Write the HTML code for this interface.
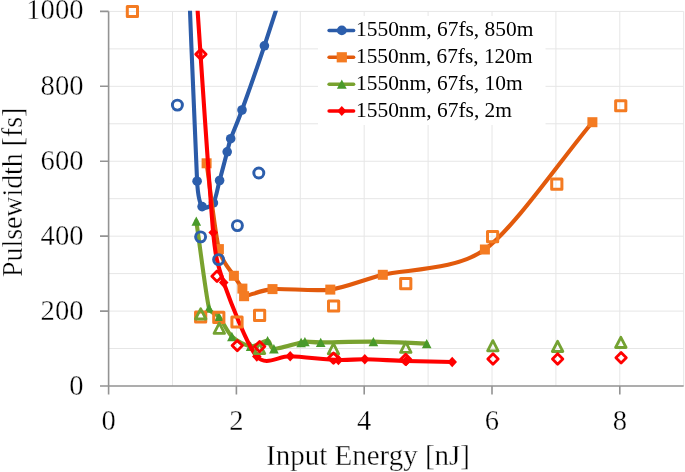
<!DOCTYPE html><html><head><meta charset="utf-8"><style>html,body{margin:0;padding:0;background:#fff;}svg{display:block;will-change:transform;}text{font-family:"Liberation Serif",serif;fill:#000;stroke:#fff;stroke-width:0.35px;} text.lg{stroke:none;}</style></head><body>
<svg width="685" height="472" viewBox="0 0 685 472">
<defs><clipPath id="pc"><rect x="108.60" y="10.80" width="575.10" height="375.20"/></clipPath></defs>
<rect width="685" height="472" fill="#fff"/>
<path d="M108.60,348.54H683.70 M108.60,311.08H683.70 M108.60,273.62H683.70 M108.60,236.16H683.70 M108.60,198.70H683.70 M108.60,161.24H683.70 M108.60,123.78H683.70 M108.60,86.32H683.70 M108.60,48.86H683.70 M108.60,11.40H683.70 M172.50,11.40V386.00 M236.40,11.40V386.00 M300.30,11.40V386.00 M364.20,11.40V386.00 M428.10,11.40V386.00 M492.00,11.40V386.00 M555.90,11.40V386.00 M619.80,11.40V386.00 M683.70,11.40V386.00" stroke="#E6E6E6" stroke-width="1" fill="none"/>
<path d="M108.60,11.40V394.40 M100.00,386.00H683.70 M100.00,386.00H108.60 M100.00,311.08H108.60 M100.00,236.16H108.60 M100.00,161.24H108.60 M100.00,86.32H108.60 M100.00,11.40H108.60 M108.60,386.00V394.40 M236.40,386.00V394.40 M364.20,386.00V394.40 M492.00,386.00V394.40 M619.80,386.00V394.40" stroke="#939393" stroke-width="1.6" fill="none"/>
<text x="83.5" y="394.85" font-size="28.6" text-anchor="end">0</text>
<text x="83.5" y="319.77" font-size="28.6" text-anchor="end">200</text>
<text x="83.5" y="244.69" font-size="28.6" text-anchor="end">400</text>
<text x="83.5" y="169.61" font-size="28.6" text-anchor="end">600</text>
<text x="83.5" y="94.53" font-size="28.6" text-anchor="end">800</text>
<text x="83.5" y="19.45" font-size="28.6" text-anchor="end">1000</text>
<text x="108.60" y="429.7" font-size="28.6" text-anchor="middle">0</text>
<text x="236.40" y="429.7" font-size="28.6" text-anchor="middle">2</text>
<text x="364.20" y="429.7" font-size="28.6" text-anchor="middle">4</text>
<text x="492.00" y="429.7" font-size="28.6" text-anchor="middle">6</text>
<text x="619.80" y="429.7" font-size="28.6" text-anchor="middle">8</text>
<text x="266" y="465.2" font-size="28.5" textLength="204" lengthAdjust="spacingAndGlyphs">Input Energy [nJ]</text>
<text transform="translate(21.5,277) rotate(-90)" x="0" y="0" font-size="28.5" textLength="169.4" lengthAdjust="spacingAndGlyphs">Pulsewidth [fs]</text>
<path d="M187.20,-60.00 C189.97,7.54 195.01,143.88 197.10,181.20 C197.75,192.83 199.82,203.56 202.10,206.60 C204.38,209.64 210.95,206.55 213.40,202.90 C215.85,199.25 217.67,187.65 219.60,180.50 C221.53,173.35 225.65,157.65 227.20,151.80 C228.75,145.95 228.66,144.45 230.70,138.70 C232.77,132.85 237.28,123.01 242.00,110.00 C246.72,96.99 256.28,70.09 264.40,45.80 C272.52,21.51 290.03,-32.90 300.00,-63.50" stroke="#2B5BA8" clip-path="url(#pc)" fill="none" stroke-width="4.10" stroke-linecap="round" stroke-linejoin="round"/>
<circle cx="197.10" cy="181.20" r="4.80" fill="#2C5EAC"/>
<circle cx="202.10" cy="206.60" r="4.80" fill="#2C5EAC"/>
<circle cx="213.40" cy="202.90" r="4.80" fill="#2C5EAC"/>
<circle cx="219.60" cy="180.50" r="4.80" fill="#2C5EAC"/>
<circle cx="227.20" cy="151.80" r="4.80" fill="#2C5EAC"/>
<circle cx="230.70" cy="138.70" r="4.80" fill="#2C5EAC"/>
<circle cx="242.00" cy="110.00" r="4.80" fill="#2C5EAC"/>
<circle cx="264.40" cy="45.80" r="4.80" fill="#2C5EAC"/>
<path d="M206.60,163.30 C210.04,187.32 215.08,233.35 218.90,249.10 C222.15,262.49 230.61,270.27 233.90,275.80 C237.19,281.33 240.97,285.74 242.40,288.60 C243.83,291.46 240.60,296.14 244.10,296.20 C248.31,296.27 260.43,290.02 272.50,289.10 C284.57,288.18 314.86,291.60 330.30,289.60 C345.74,287.60 361.16,280.41 382.80,274.80 C404.44,269.19 455.56,270.86 484.90,249.50 C514.24,228.14 562.30,157.84 592.40,122.20" stroke="#E25A0C" clip-path="url(#pc)" fill="none" stroke-width="4.10" stroke-linecap="round" stroke-linejoin="round"/>
<rect x="201.60" y="158.30" width="10.00" height="10.00" fill="#F47B22"/>
<rect x="213.90" y="244.10" width="10.00" height="10.00" fill="#F47B22"/>
<rect x="228.90" y="270.80" width="10.00" height="10.00" fill="#F47B22"/>
<rect x="237.40" y="283.60" width="10.00" height="10.00" fill="#F47B22"/>
<rect x="239.10" y="291.20" width="10.00" height="10.00" fill="#F47B22"/>
<rect x="267.50" y="284.10" width="10.00" height="10.00" fill="#F47B22"/>
<rect x="325.30" y="284.60" width="10.00" height="10.00" fill="#F47B22"/>
<rect x="377.80" y="269.80" width="10.00" height="10.00" fill="#F47B22"/>
<rect x="479.90" y="244.50" width="10.00" height="10.00" fill="#F47B22"/>
<rect x="587.40" y="117.20" width="10.00" height="10.00" fill="#F47B22"/>
<path d="M196.30,221.15 C199.86,245.50 205.82,294.72 209.00,308.10 C210.37,313.87 215.79,312.72 219.00,316.70 C222.21,320.68 227.48,332.36 231.90,336.50 C236.32,340.64 245.60,345.68 250.60,346.25 C255.60,346.82 264.34,340.24 267.60,340.60 C270.86,340.96 269.25,348.54 273.90,348.80 C278.59,349.06 296.76,343.45 301.10,342.45 C302.80,342.06 303.15,341.65 304.90,341.65 C307.64,341.64 313.58,342.41 320.70,342.40 C330.29,342.39 358.56,341.43 373.40,341.60 C388.24,341.77 411.78,343.04 426.70,343.60" stroke="#79A22F" clip-path="url(#pc)" fill="none" stroke-width="4.10" stroke-linecap="round" stroke-linejoin="round"/>
<path d="M196.30,216.45 L201.10,225.85 L191.50,225.85 Z" fill="#499A2A"/>
<path d="M209.00,303.40 L213.80,312.80 L204.20,312.80 Z" fill="#499A2A"/>
<path d="M219.00,312.00 L223.80,321.40 L214.20,321.40 Z" fill="#499A2A"/>
<path d="M231.90,331.80 L236.70,341.20 L227.10,341.20 Z" fill="#499A2A"/>
<path d="M250.60,341.55 L255.40,350.95 L245.80,350.95 Z" fill="#499A2A"/>
<path d="M267.60,335.90 L272.40,345.30 L262.80,345.30 Z" fill="#499A2A"/>
<path d="M273.90,344.10 L278.70,353.50 L269.10,353.50 Z" fill="#499A2A"/>
<path d="M301.10,337.75 L305.90,347.15 L296.30,347.15 Z" fill="#499A2A"/>
<path d="M304.90,336.95 L309.70,346.35 L300.10,346.35 Z" fill="#499A2A"/>
<path d="M320.70,337.70 L325.50,347.10 L315.90,347.10 Z" fill="#499A2A"/>
<path d="M373.40,336.90 L378.20,346.30 L368.60,346.30 Z" fill="#499A2A"/>
<path d="M426.70,338.90 L431.50,348.30 L421.90,348.30 Z" fill="#499A2A"/>
<path d="M192.60,-63.50 C198.37,19.41 208.85,184.15 213.20,232.60 C215.26,255.50 217.60,265.25 223.70,282.60 C229.80,299.95 247.49,346.18 256.80,356.50 C266.11,366.82 278.78,355.81 290.20,356.30 C301.62,356.79 327.96,359.59 338.40,360.00 C348.84,360.41 355.32,359.06 364.80,359.20 C374.28,359.34 393.86,360.61 406.10,361.00 C418.34,361.39 439.29,361.72 452.20,362.00" stroke="#FF0000" clip-path="url(#pc)" fill="none" stroke-width="4.10" stroke-linecap="round" stroke-linejoin="round"/>
<path d="M213.20,227.40 L218.00,232.60 L213.20,237.80 L208.40,232.60 Z" fill="#FF0000"/>
<path d="M223.70,277.40 L228.50,282.60 L223.70,287.80 L218.90,282.60 Z" fill="#FF0000"/>
<path d="M256.80,351.30 L261.60,356.50 L256.80,361.70 L252.00,356.50 Z" fill="#FF0000"/>
<path d="M290.20,351.10 L295.00,356.30 L290.20,361.50 L285.40,356.30 Z" fill="#FF0000"/>
<path d="M338.40,354.80 L343.20,360.00 L338.40,365.20 L333.60,360.00 Z" fill="#FF0000"/>
<path d="M364.80,354.00 L369.60,359.20 L364.80,364.40 L360.00,359.20 Z" fill="#FF0000"/>
<path d="M406.10,355.80 L410.90,361.00 L406.10,366.20 L401.30,361.00 Z" fill="#FF0000"/>
<path d="M452.20,356.80 L457.00,362.00 L452.20,367.20 L447.40,362.00 Z" fill="#FF0000"/>
<circle cx="177.40" cy="105.10" r="5.00" fill="none" stroke="#2C5EAC" stroke-width="2.95"/>
<circle cx="200.60" cy="236.85" r="5.00" fill="none" stroke="#2C5EAC" stroke-width="2.95"/>
<circle cx="218.60" cy="259.60" r="5.00" fill="none" stroke="#2C5EAC" stroke-width="2.95"/>
<circle cx="237.40" cy="225.60" r="5.00" fill="none" stroke="#2C5EAC" stroke-width="2.95"/>
<circle cx="258.80" cy="173.00" r="5.00" fill="none" stroke="#2C5EAC" stroke-width="2.95"/>
<rect x="127.30" y="6.40" width="10.20" height="10.20" fill="none" stroke="#F47B22" stroke-width="3.00" stroke-linejoin="round"/>
<rect x="195.55" y="311.90" width="10.20" height="10.20" fill="none" stroke="#F47B22" stroke-width="3.00" stroke-linejoin="round"/>
<rect x="213.70" y="312.20" width="10.20" height="10.20" fill="none" stroke="#F47B22" stroke-width="3.00" stroke-linejoin="round"/>
<rect x="231.90" y="316.90" width="10.20" height="10.20" fill="none" stroke="#F47B22" stroke-width="3.00" stroke-linejoin="round"/>
<rect x="254.50" y="310.20" width="10.20" height="10.20" fill="none" stroke="#F47B22" stroke-width="3.00" stroke-linejoin="round"/>
<rect x="328.50" y="300.90" width="10.20" height="10.20" fill="none" stroke="#F47B22" stroke-width="3.00" stroke-linejoin="round"/>
<rect x="400.65" y="278.45" width="10.20" height="10.20" fill="none" stroke="#F47B22" stroke-width="3.00" stroke-linejoin="round"/>
<rect x="487.50" y="231.60" width="10.20" height="10.20" fill="none" stroke="#F47B22" stroke-width="3.00" stroke-linejoin="round"/>
<rect x="551.70" y="179.10" width="10.20" height="10.20" fill="none" stroke="#F47B22" stroke-width="3.00" stroke-linejoin="round"/>
<rect x="615.65" y="100.65" width="10.20" height="10.20" fill="none" stroke="#F47B22" stroke-width="3.00" stroke-linejoin="round"/>
<path d="M200.70,308.80 L205.95,319.00 L195.45,319.00 Z" fill="none" stroke="#74A232" stroke-width="2.80" stroke-linejoin="round"/>
<path d="M219.30,323.20 L224.55,333.40 L214.05,333.40 Z" fill="none" stroke="#74A232" stroke-width="2.80" stroke-linejoin="round"/>
<path d="M259.50,343.40 L264.75,353.60 L254.25,353.60 Z" fill="none" stroke="#74A232" stroke-width="2.80" stroke-linejoin="round"/>
<path d="M333.45,343.60 L338.70,353.80 L328.20,353.80 Z" fill="none" stroke="#74A232" stroke-width="2.80" stroke-linejoin="round"/>
<path d="M405.80,342.20 L411.05,352.40 L400.55,352.40 Z" fill="none" stroke="#74A232" stroke-width="2.80" stroke-linejoin="round"/>
<path d="M492.85,340.60 L498.10,350.80 L487.60,350.80 Z" fill="none" stroke="#74A232" stroke-width="2.80" stroke-linejoin="round"/>
<path d="M557.60,341.30 L562.85,351.50 L552.35,351.50 Z" fill="none" stroke="#74A232" stroke-width="2.80" stroke-linejoin="round"/>
<path d="M620.85,337.30 L626.10,347.50 L615.60,347.50 Z" fill="none" stroke="#74A232" stroke-width="2.80" stroke-linejoin="round"/>
<path d="M200.90,49.10 L206.10,54.30 L200.90,59.50 L195.70,54.30 Z" fill="none" stroke="#FF0000" stroke-width="2.80" stroke-linejoin="round"/>
<path d="M217.00,271.10 L222.20,276.30 L217.00,281.50 L211.80,276.30 Z" fill="none" stroke="#FF0000" stroke-width="2.80" stroke-linejoin="round"/>
<path d="M237.30,340.40 L242.50,345.60 L237.30,350.80 L232.10,345.60 Z" fill="none" stroke="#FF0000" stroke-width="2.80" stroke-linejoin="round"/>
<path d="M259.60,341.40 L264.80,346.60 L259.60,351.80 L254.40,346.60 Z" fill="none" stroke="#FF0000" stroke-width="2.80" stroke-linejoin="round"/>
<path d="M333.50,352.90 L338.70,358.10 L333.50,363.30 L328.30,358.10 Z" fill="none" stroke="#FF0000" stroke-width="2.80" stroke-linejoin="round"/>
<path d="M405.70,354.20 L410.90,359.40 L405.70,364.60 L400.50,359.40 Z" fill="none" stroke="#FF0000" stroke-width="2.80" stroke-linejoin="round"/>
<path d="M493.00,353.80 L498.20,359.00 L493.00,364.20 L487.80,359.00 Z" fill="none" stroke="#FF0000" stroke-width="2.80" stroke-linejoin="round"/>
<path d="M557.65,353.80 L562.85,359.00 L557.65,364.20 L552.45,359.00 Z" fill="none" stroke="#FF0000" stroke-width="2.80" stroke-linejoin="round"/>
<path d="M621.10,352.60 L626.30,357.80 L621.10,363.00 L615.90,357.80 Z" fill="none" stroke="#FF0000" stroke-width="2.80" stroke-linejoin="round"/>
<rect x="318" y="16" width="227.5" height="109" fill="#fff"/>
<path d="M329.1,30.40H353.6" stroke="#2B5BA8" stroke-width="3.5" stroke-linecap="round"/>
<circle cx="341.80" cy="30.40" r="4.90" fill="#2C5EAC"/>
<text class="lg" x="356.0" y="36.30" font-size="21.5" textLength="177.4" lengthAdjust="spacingAndGlyphs">1550nm, 67fs, 850m</text>
<path d="M329.1,57.30H353.6" stroke="#E25A0C" stroke-width="3.5" stroke-linecap="round"/>
<rect x="336.70" y="52.20" width="10.20" height="10.20" fill="#F47B22"/>
<text class="lg" x="356.0" y="63.20" font-size="21.5" textLength="176.5" lengthAdjust="spacingAndGlyphs">1550nm, 67fs, 120m</text>
<path d="M329.1,84.20H353.6" stroke="#79A22F" stroke-width="3.5" stroke-linecap="round"/>
<path d="M341.80,79.55 L346.70,88.85 L336.90,88.85 Z" fill="#499A2A"/>
<text class="lg" x="356.0" y="90.10" font-size="21.5" textLength="166.6" lengthAdjust="spacingAndGlyphs">1550nm, 67fs, 10m</text>
<path d="M329.1,111.10H353.6" stroke="#FF0000" stroke-width="3.5" stroke-linecap="round"/>
<path d="M341.80,106.10 L346.40,111.10 L341.80,116.10 L337.20,111.10 Z" fill="#FF0000"/>
<text class="lg" x="356.0" y="117.00" font-size="21.5" textLength="156.0" lengthAdjust="spacingAndGlyphs">1550nm, 67fs, 2m</text>
</svg></body></html>
